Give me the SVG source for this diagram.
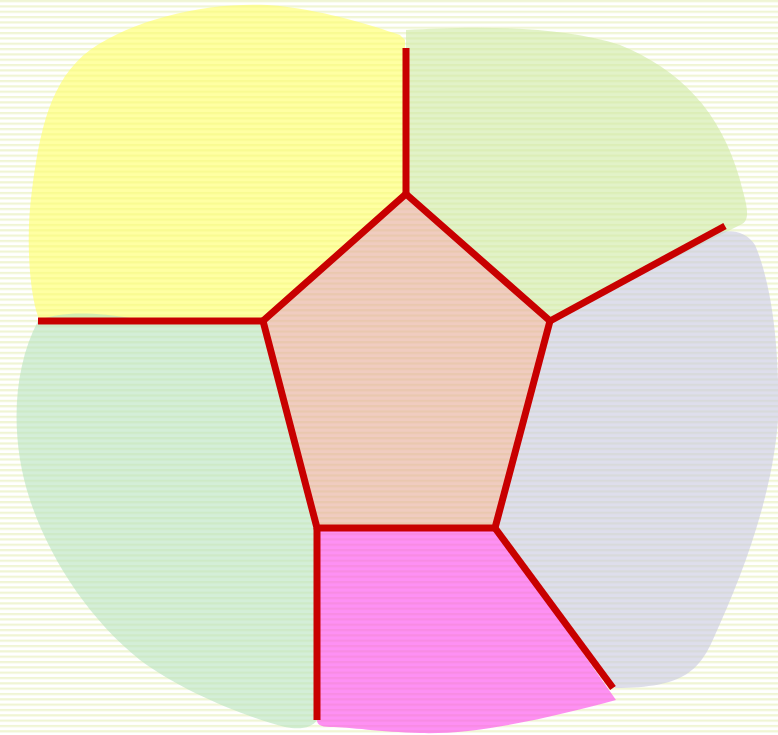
<svg xmlns="http://www.w3.org/2000/svg" width="778" height="735" viewBox="0 0 778 735">
<defs>
<pattern id="stripes" width="10" height="5.33" patternUnits="userSpaceOnUse">
<rect width="10" height="5.33" fill="#ffffff"/>
<rect y="0" width="10" height="2.2" fill="#f0f5d4"/>
</pattern>
<style>
.blob{opacity:0.6;stroke:none}
.edge{stroke:#c80000;stroke-width:7;fill:none;stroke-linejoin:miter}
</style>
</defs>
<rect width="778" height="735" fill="url(#stripes)"/>
<g id="yellow"><path class="blob" fill="#ffff66" d="M405,40 L405,194 L263,321 L40,321 C30,300 25,240 32,190 C40,130 50,80 90,50 C140,15 220,0 280,6 C330,12 370,25 400,35 Z"/></g>
<g id="green"><path class="blob" fill="#cfe9a3" d="M406,30 C470,26 560,25 620,45 C680,70 720,110 740,180 C745,200 752,218 742,224 L550,321 L406,194 Z"/></g>
<g id="lavender"><path class="blob" fill="#c8c8df" d="M690,245 C710,232 740,222 755,245 C770,280 780,340 778,420 C772,500 740,580 715,635 C700,670 685,688 615,688 L495,528 L550,321 Z"/></g>
<g id="pink"><path class="blob" fill="#fd46ed" d="M317,528 L495,528 L616,700 C560,715 480,735 420,733 C380,732 350,727 330,727 C320,727 317,724 317,720 Z"/></g>
<g id="mint"><path class="blob" fill="#b7e3be" d="M38,321 C60,310 100,313 130,318 L263,321 L317,528 L317,720 C312,728 300,730 285,727 C240,715 180,690 140,660 C90,620 50,560 30,500 C10,440 12,370 38,321 Z"/></g>
<g id="center"><path class="blob" fill="#e6aa96" d="M406,194 L550,321 L495,528 L317,528 L263,321 Z"/></g>
<g id="connectors">
<path class="edge" d="M406,194 L550,321 L495,528 L317,528 L263,321 Z"/>
<path class="edge" d="M406,194 L406,48"/>
<path class="edge" d="M550,321 L725,226"/>
<path class="edge" d="M495,528 L613,688"/>
<path class="edge" d="M317,528 L317,720"/>
<path class="edge" d="M263,321 L38,321"/>
</g>
</svg>
